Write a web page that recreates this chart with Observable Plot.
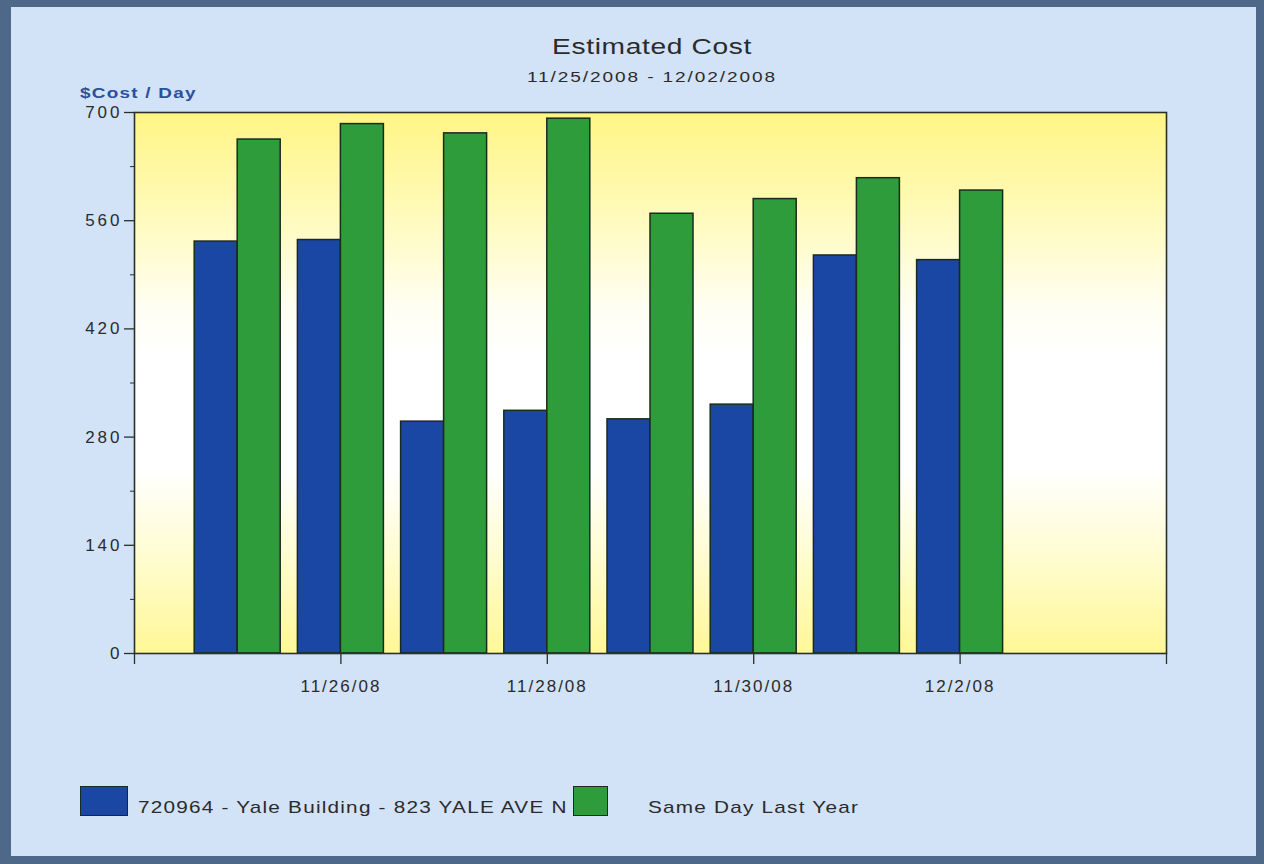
<!DOCTYPE html>
<html>
<head>
<meta charset="utf-8">
<script src="https://cdn.jsdelivr.net/npm/d3@7"></script>
<script src="https://cdn.jsdelivr.net/npm/@observablehq/plot@0.6"></script>
<style>
html, body { margin: 0; padding: 0; }
body { width: 1264px; height: 864px; background: #4d6889; position: relative; overflow: hidden;
  font-family: "Liberation Sans", Arial, sans-serif; }
#panel { position: absolute; left: 11px; top: 7px; width: 1245px; height: 849px; background: #d2e2f7; }
#chart { position: absolute; left: 0; top: 0; }
.t { position: absolute; white-space: nowrap; color: #2b2b2b; }
#title { left: 652px; top: 34px; transform: translateX(-50%) scaleX(1.28); font-size: 22px; letter-spacing: 0.5px; }
#subtitle { left: 652px; top: 68px; transform: translateX(-50%) scaleX(1.27); font-size: 15px; letter-spacing: 1.5px; }
#ylabel { left: 80px; top: 84px; transform-origin: 0 0; transform: scaleX(1.26); font-size: 15px; letter-spacing: 1px; color: #2c4f9c; font-weight: bold; }
.sw { position: absolute; border: 1px solid #1d2a1f; box-sizing: border-box; }
.lg { position: absolute; white-space: nowrap; font-size: 17px; letter-spacing: 1px; color: #2b2b2b; transform-origin: 0 0; transform: scaleX(1.22); }
g[aria-label="y-axis tick label"] { letter-spacing: 3px; }
g[aria-label="x-axis tick label"] { letter-spacing: 2px; }
</style>
</head>
<body>
<div id="panel"></div>
<div id="chart"></div>
<div class="t" id="title"></div>
<div class="t" id="subtitle"></div>
<div class="t" id="ylabel"></div>
<div id="legend"></div>
<script>
// ---- data ----
const dates = ["2008-11-25", "2008-11-26", "2008-11-27", "2008-11-28", "2008-11-29", "2008-11-30", "2008-12-01", "2008-12-02"];
const building = [533, 535, 300, 314, 303, 322, 515, 509];
const lastYear = [665, 685, 673, 692, 569, 588, 615, 599];
const seriesNames = ["720964 - Yale Building - 823 YALE AVE N", "Same Day Last Year"];
const seriesColors = ["#1a47a3", "#2f9c3b"];
const yTicks = [0, 140, 280, 420, 560, 700];
const yMinorTicks = [70, 210, 350, 490, 630];
const xTickDates = ["2008-11-24", "2008-11-26", "2008-11-28", "2008-11-30", "2008-12-02", "2008-12-04"];
const xTickLabels = ["", "11/26/08", "11/28/08", "11/30/08", "12/2/08", ""];
const xDomain = ["2008-11-24", "2008-12-04"];
const titleText = "Estimated Cost";
const subtitleText = "11/25/2008 - 12/02/2008";
const yLabelText = "$Cost / Day";

// ---- build ----
const parse = d3.utcParse("%Y-%m-%d");
const rows = [];
dates.forEach((d, i) => {
  const date = parse(d);
  rows.push({date, series: seriesNames[0], value: building[i], x1: d3.utcHour.offset(date, -10), x2: date});
  rows.push({date, series: seriesNames[1], value: lastYear[i], x1: date, x2: d3.utcHour.offset(date, 10)});
});
const labelMap = new Map(xTickDates.map((d, i) => [+parse(d), xTickLabels[i]]));

const defs = () => {
  const g = d3.create("svg:defs");
  const lg = g.append("linearGradient").attr("id", "plotbg")
    .attr("x1", 0).attr("y1", 0).attr("x2", 0).attr("y2", 1);
  [[0, "#fff585"], [0.18, "#fffab8"], [0.36, "#fffef2"], [0.45, "#ffffff"], [0.66, "#ffffff"], [0.82, "#fffcd0"], [1, "#fff796"]]
    .forEach(([o, c]) => lg.append("stop").attr("offset", o).attr("stop-color", c));
  return g.node();
};

const chart = Plot.plot({
  width: 1264,
  height: 864,
  marginLeft: 134,
  marginRight: 98,
  marginTop: 112,
  marginBottom: 211,
  style: {background: "transparent", fontFamily: "'Liberation Sans', Arial, sans-serif", fontSize: "17px", color: "#2b2b2b"},
  x: {type: "utc", domain: xDomain.map(parse)},
  y: {domain: [0, 700]},
  color: {domain: seriesNames, range: seriesColors},
  marks: [
    defs,
    Plot.frame({fill: "url(#plotbg)", stroke: null}),
    Plot.rectY(rows, {x1: "x1", x2: "x2", y: "value", fill: "series", stroke: "#1c2a1e", strokeWidth: 1.5}),
    Plot.frame({stroke: "#2a302a", strokeWidth: 1.6}),
    Plot.axisY({ticks: yTicks, tickSize: 10, tickPadding: 2, label: null, stroke: "#2a302a", strokeWidth: 1.3}),
    Plot.axisY({ticks: yMinorTicks, tickSize: 4, tickFormat: () => "", label: null, stroke: "#2a302a"}),
    Plot.axisX({ticks: xTickDates.map(parse), tickSize: 11, tickPadding: 15, label: null, stroke: "#2a302a", strokeWidth: 1.3,
      tickFormat: d => labelMap.get(+d) ?? ""})
  ]
});
document.getElementById("chart").appendChild(chart);

document.getElementById("title").textContent = titleText;
document.getElementById("subtitle").textContent = subtitleText;
document.getElementById("ylabel").textContent = yLabelText;

// legend
const legend = document.getElementById("legend");
const legendLayout = [{sx: 80, sw: 48, tx: 138}, {sx: 573, sw: 35, tx: 648}];
seriesNames.forEach((name, i) => {
  const s = document.createElement("div");
  s.className = "sw";
  s.style.left = legendLayout[i].sx + "px";
  s.style.top = "786px";
  s.style.width = legendLayout[i].sw + "px";
  s.style.height = "30px";
  s.style.background = seriesColors[i];
  legend.appendChild(s);
  const t = document.createElement("div");
  t.className = "lg";
  t.style.left = legendLayout[i].tx + "px";
  t.style.top = "798px";
  t.textContent = name;
  legend.appendChild(t);
});
</script>
</body>
</html>
